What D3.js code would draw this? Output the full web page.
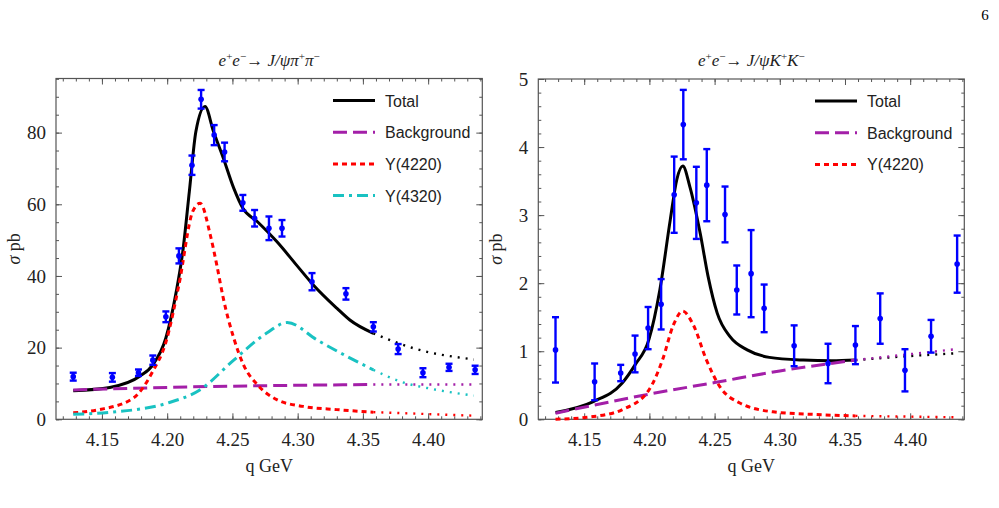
<!DOCTYPE html>
<html>
<head>
<meta charset="utf-8">
<script src="https://cdn.jsdelivr.net/npm/d3@7"></script>
<style>
  body { margin: 0; background: #fff; }
  svg { display: block; }
  .tick-label { font-family: "Liberation Serif", "DejaVu Serif", serif; font-size: 19px; fill: #222; }
  .axis-title { font-family: "Liberation Serif", "DejaVu Serif", serif; font-size: 18px; fill: #222; }
  .panel-title { font-family: "Liberation Serif", "DejaVu Serif", serif; font-size: 17px; font-style: italic; fill: #222; }
  .legend-text { font-family: "Liberation Sans", Arial, sans-serif; font-size: 16px; fill: #222; }
</style>
</head>
<body>
<div id="chart"></div>
<script>
// measured energies (GeV), same for both channels
const energies = [4.128, 4.158, 4.178, 4.189, 4.199, 4.209, 4.219, 4.226, 4.236, 4.244,
                  4.258, 4.267, 4.278, 4.288, 4.311, 4.337, 4.358, 4.377, 4.396, 4.416, 4.436];

// J/psi pi+ pi- cross section (pb) and errors
const pipiSigma = [11.9, 11.7, 13.0, 16.5, 28.6, 45.6, 70.9, 89.3, 79.3, 74.6,
                   60.4, 56.1, 53.3, 53.3, 38.4, 35.0, 25.8, 19.6, 13.0, 14.5, 13.8];
const pipiErr = [1.1, 1.2, 0.9, 1.3, 1.5, 2.1, 2.7, 2.6, 2.8, 2.6,
                 2.2, 2.3, 3.3, 2.3, 2.4, 1.6, 1.3, 1.4, 1.25, 1.0, 1.15];

// J/psi K+ K- cross section (pb) and errors
const kkSigma = [1.02, 0.55, 0.68, 0.96, 1.34, 1.69, 3.30, 4.33, 3.18, 3.44,
                 3.01, 1.90, 2.14, 1.63, 1.08, 0.82, 1.09, 1.48, 0.72, 1.22, 2.28];
const kkErr = [0.48, 0.27, 0.12, 0.27, 0.31, 0.37, 0.56, 0.51, 0.53, 0.53,
               0.41, 0.36, 0.64, 0.35, 0.30, 0.29, 0.28, 0.37, 0.31, 0.24, 0.42];

// fit curves: [q, sigma]
const pipiTotal = [[4.128, 8.0], [4.156, 8.9], [4.179, 12.0], [4.189, 15.2], [4.199, 22.7], [4.207, 35.7],
                   [4.212, 46.9], [4.217, 63.6], [4.222, 80.3], [4.229, 87.3], [4.2355, 80.3], [4.243, 72.9],
                   [4.251, 64.5], [4.258, 58.9], [4.269, 55.2], [4.284, 49.6], [4.299, 43.1], [4.312, 37.5],
                   [4.330, 31.0], [4.340, 27.7], [4.358, 24.0], [4.389, 19.8], [4.435, 16.7]];
const pipiBackground = [[4.128, 8.2], [4.200, 8.9], [4.300, 9.5], [4.358, 9.7], [4.435, 9.7]];
const pipiY4220 = [[4.128, 1.8], [4.148, 2.7], [4.174, 5.9], [4.189, 13.4], [4.199, 21.5], [4.209, 37.5],
                   [4.2196, 58.0], [4.2253, 60.3], [4.233, 51.5], [4.238, 43.1], [4.243, 33.8], [4.251, 22.7],
                   [4.2585, 15.2], [4.269, 9.7], [4.284, 5.5], [4.304, 3.6], [4.330, 2.7], [4.358, 2.0], [4.435, 1.0]];
const pipiY4320 = [[4.128, 1.4], [4.158, 2.0], [4.200, 4.5], [4.225, 8.2], [4.251, 16.5], [4.276, 24.0],
                   [4.292, 27.0], [4.315, 22.1], [4.338, 17.5], [4.358, 13.8], [4.379, 10.5], [4.404, 8.4], [4.435, 6.6]];

const kkTotal = [[4.128, 0.10], [4.157, 0.26], [4.179, 0.53], [4.189, 0.80], [4.1996, 1.17], [4.208, 1.90],
                 [4.216, 2.93], [4.221, 3.52], [4.2256, 3.72], [4.231, 3.42], [4.239, 2.73], [4.245, 2.10],
                 [4.252, 1.56], [4.262, 1.21], [4.275, 1.02], [4.292, 0.91], [4.318, 0.87], [4.340, 0.86],
                 [4.358, 0.87], [4.400, 0.93], [4.435, 0.97]];
const kkBackground = [[4.128, 0.09], [4.200, 0.37], [4.250, 0.54], [4.300, 0.71], [4.358, 0.87], [4.435, 1.03]];
const kkY4220 = [[4.128, 0.0], [4.157, 0.04], [4.179, 0.14], [4.1996, 0.43], [4.210, 0.87], [4.2185, 1.39],
                 [4.2255, 1.59], [4.2336, 1.39], [4.2438, 0.87], [4.254, 0.48], [4.2693, 0.24], [4.2948, 0.11],
                 [4.328, 0.07], [4.358, 0.05], [4.435, 0.03]];

// tick labels
const xTicks = [4.15, 4.20, 4.25, 4.30, 4.35, 4.40];
const pipiYTicks = [0, 20, 40, 60, 80];
const kkYTicks = [0, 1, 2, 3, 4, 5];

const fitEnd = 4.358; // curves are dotted beyond the fit range

const svg = d3.select("#chart").append("svg")
    .attr("width", 999)
    .attr("height", 508);

// page number
svg.append("text")
    .attr("x", 985).attr("y", 20)
    .attr("text-anchor", "middle")
    .style("font-family", "Liberation Serif, serif")
    .style("font-size", "15px")
    .text("6");

const styles = {
    total: {color: "#000000", dash: null, label: "Total"},
    background: {color: "#a31fa8", dash: "14,6", label: "Background"},
    y4220: {color: "#ff0000", dash: "5,4", label: "Y(4220)"},
    y4320: {color: "#19c2c2", dash: "11,5,3,5", label: "Y(4320)"}
};

function drawPanel(cfg) {
    let x = d3.scaleLinear().domain([4.1148, 4.4415]).range([cfg.left, cfg.right]);
    let y = d3.scaleLinear().domain(cfg.yDomain).range([cfg.bottom, cfg.top]);
    let g = svg.append("g");

    // frame
    g.append("rect")
        .attr("x", cfg.left).attr("y", cfg.top)
        .attr("width", cfg.right - cfg.left).attr("height", cfg.bottom - cfg.top)
        .attr("fill", "none").attr("stroke", "#555").attr("stroke-width", 1.2);

    // ticks (inward, mirrored)
    let xMinor = d3.range(4.12, 4.441, 0.01);
    let yMinor = d3.range(cfg.yDomain[0], cfg.yDomain[1], cfg.yMinorStep);
    let axes = [
        [d3.axisBottom(x).tickValues(xMinor).tickSize(-3).tickFormat(""), `translate(0,${cfg.bottom})`],
        [d3.axisTop(x).tickValues(xMinor).tickSize(-3).tickFormat(""), `translate(0,${cfg.top})`],
        [d3.axisLeft(y).tickValues(yMinor).tickSize(-3).tickFormat(""), `translate(${cfg.left},0)`],
        [d3.axisRight(y).tickValues(yMinor).tickSize(-3).tickFormat(""), `translate(${cfg.right},0)`],
        [d3.axisBottom(x).tickValues(xTicks).tickSize(-6).tickPadding(13).tickFormat(d3.format(".2f")), `translate(0,${cfg.bottom})`],
        [d3.axisTop(x).tickValues(xTicks).tickSize(-6).tickFormat(""), `translate(0,${cfg.top})`],
        [d3.axisLeft(y).tickValues(cfg.yTicks).tickSize(-6).tickPadding(10).tickFormat(d3.format("d")), `translate(${cfg.left},0)`],
        [d3.axisRight(y).tickValues(cfg.yTicks).tickSize(-6).tickFormat(""), `translate(${cfg.right},0)`]
    ];
    axes.forEach(a => {
        let ax = g.append("g").attr("transform", a[1]).call(a[0]);
        ax.select(".domain").remove();
        ax.selectAll("line").attr("stroke", "#555");
        ax.selectAll("text").attr("class", "tick-label").attr("fill", null);
    });

    // curves: solid inside fit range, dotted beyond
    let line = d3.line().x(d => x(d[0])).y(d => y(d[1])).curve(d3.curveMonotoneX);
    cfg.curves.forEach(c => {
        let st = styles[c.key];
        let solid = c.data.filter(d => d[0] <= fitEnd + 1e-9);
        let dotted = c.data.filter(d => d[0] >= fitEnd - 1e-9);
        g.append("path").datum(solid)
            .attr("d", line)
            .attr("fill", "none").attr("stroke", st.color)
            .attr("stroke-width", 3)
            .attr("stroke-dasharray", st.dash);
        g.append("path").datum(dotted)
            .attr("d", line)
            .attr("fill", "none").attr("stroke", st.color)
            .attr("stroke-width", 2.4)
            .attr("stroke-dasharray", "2,6");
    });

    // data with error bars
    let pts = energies.map((q, i) => ({q: q, s: cfg.sigma[i], e: cfg.err[i]}));
    let eb = g.append("g").attr("stroke", "#0000ff").attr("stroke-width", 2.4);
    eb.selectAll(".bar").data(pts).enter().append("line")
        .attr("x1", d => x(d.q)).attr("x2", d => x(d.q))
        .attr("y1", d => y(d.s - d.e)).attr("y2", d => y(d.s + d.e));
    eb.selectAll(".capt").data(pts).enter().append("line")
        .attr("x1", d => x(d.q) - 3.5).attr("x2", d => x(d.q) + 3.5)
        .attr("y1", d => y(d.s + d.e)).attr("y2", d => y(d.s + d.e));
    eb.selectAll(".capb").data(pts).enter().append("line")
        .attr("x1", d => x(d.q) - 3.5).attr("x2", d => x(d.q) + 3.5)
        .attr("y1", d => y(d.s - d.e)).attr("y2", d => y(d.s - d.e));
    g.selectAll(".pt").data(pts).enter().append("circle")
        .attr("cx", d => x(d.q)).attr("cy", d => y(d.s))
        .attr("r", 2.8).attr("fill", "#0000ff");

    // legend
    let lg = g.append("g");
    cfg.curves.forEach((c, i) => {
        let st = styles[c.key];
        let ly = cfg.top + 22 + i * 31.7;
        lg.append("line")
            .attr("x1", cfg.legendX).attr("x2", cfg.legendX + 42)
            .attr("y1", ly).attr("y2", ly)
            .attr("stroke", st.color).attr("stroke-width", 3)
            .attr("stroke-dasharray", st.dash);
        lg.append("text")
            .attr("class", "legend-text")
            .attr("x", cfg.legendX + 52).attr("y", ly + 6)
            .text(st.label);
    });

    // axis titles
    let cx = (cfg.left + cfg.right) / 2;
    g.append("text").attr("class", "axis-title")
        .attr("x", cx).attr("y", 472)
        .attr("text-anchor", "middle")
        .text("q GeV");
    let yt = g.append("text").attr("class", "axis-title")
        .attr("transform", `translate(${cfg.left - 36},${(cfg.top + cfg.bottom) / 2}) rotate(-90)`)
        .attr("text-anchor", "middle");
    yt.append("tspan").style("font-style", "italic").text("σ");
    yt.append("tspan").text(" pb");

    // panel title with superscripts
    let tt = g.append("text").attr("class", "panel-title")
        .attr("x", cx).attr("y", 66)
        .attr("text-anchor", "middle");
    cfg.title.forEach(p => {
        let ts = tt.append("tspan").text(p[0]);
        if (p[1] === "sup") ts.attr("dy", -6).style("font-size", "11px").style("font-style", "normal");
        if (p[1] === "down") ts.attr("dy", 6);
        if (p[1] === "roman") ts.attr("dy", 6).style("font-style", "normal");
    });
}

drawPanel({
    left: 56, right: 482.3, top: 78.5, bottom: 419.3,
    yDomain: [0, 95.1], yTicks: pipiYTicks, yMinorStep: 5,
    sigma: pipiSigma, err: pipiErr,
    legendX: 333,
    title: [["e"], ["+", "sup"], ["e", "down"], ["−", "sup"], ["\u2192 ", "roman"], ["J/ψπ"], ["+", "sup"], ["π", "down"], ["−", "sup"]],
    curves: [{key: "total", data: pipiTotal}, {key: "background", data: pipiBackground},
             {key: "y4220", data: pipiY4220}, {key: "y4320", data: pipiY4320}]
});

drawPanel({
    left: 538.3, right: 964.3, top: 79, bottom: 419.3,
    yDomain: [0, 5], yTicks: kkYTicks, yMinorStep: 0.2,
    sigma: kkSigma, err: kkErr,
    legendX: 815,
    title: [["e"], ["+", "sup"], ["e", "down"], ["−", "sup"], ["\u2192 ", "roman"], ["J/ψK"], ["+", "sup"], ["K", "down"], ["−", "sup"]],
    curves: [{key: "total", data: kkTotal}, {key: "background", data: kkBackground},
             {key: "y4220", data: kkY4220}]
});
</script>
</body>
</html>
